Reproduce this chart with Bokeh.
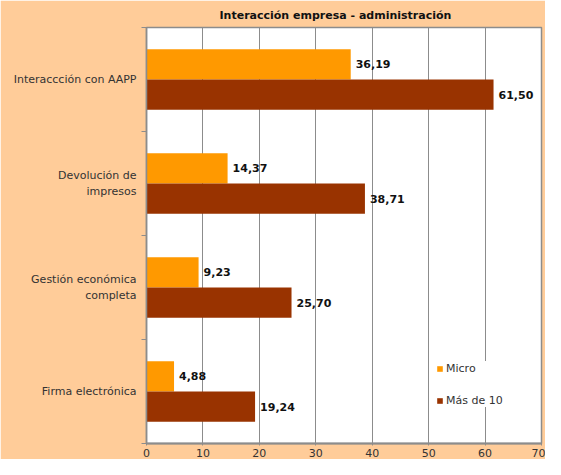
from bokeh.plotting import figure
from bokeh.models import ColumnDataSource, FixedTicker, Range1d, Legend, LegendItem
from bokeh.core.properties import value
from bokeh.embed import file_html
from bokeh.resources import INLINE

categories = ["Interaccción con AAPP", "Devolución de\nimpresos", "Gestión económica\ncompleta", "Firma electrónica"]
micro = [36.19, 14.37, 9.23, 4.88]
mas10 = [61.50, 38.71, 25.70, 19.24]
series_names = ["Micro", "Más de 10"]
x_ticks = [0, 10, 20, 30, 40, 50, 60, 70]

n = len(categories)
centers = [n - 1 - i + 0.5 for i in range(n)]
off = 0.145
h = 0.29

src = ColumnDataSource(dict(
    ym=[c + off for c in centers],
    yx=[c - off for c in centers],
    micro=micro,
    mas=mas10,
    lm=[f"{v:.2f}".replace(".", ",") for v in micro],
    lx=[f"{v:.2f}".replace(".", ",") for v in mas10],
))

FONT = "DejaVu Sans"
BG = "#FFCC99"
GRAY = "#8c8c8c"

p = figure(width=545, height=459, output_backend="svg", toolbar_location=None,
           x_range=Range1d(0, 70), y_range=Range1d(0, n),
           min_border_left=146, min_border_right=4, min_border_top=0, min_border_bottom=10,
           title="Interacción empresa - administración")
p.background_fill_color = "white"
p.border_fill_color = BG
p.outline_line_color = GRAY
p.outline_line_width = 1.5

p.title.align = "left"
p.title.offset = 73
p.title.text_font = FONT
p.title.text_font_size = "11px"
p.title.text_font_style = "bold"
p.title.text_color = "#111111"
p.title.standoff = 12

r1 = p.hbar(y="ym", right="micro", left=0, height=h, source=src, color="#FF9900", line_color=None)
r2 = p.hbar(y="yx", right="mas", left=0, height=h, source=src, color="#993300", line_color=None)

for col, lab in (("ym", "lm"), ("yx", "lx")):
    p.text(x="micro" if col == "ym" else "mas", y=col, text=lab, source=src,
           x_offset=5, text_baseline="middle", text_align="left",
           text_font=value(FONT), text_font_size="11px", text_font_style="bold", text_color="#111111")

# x axis
p.xaxis.ticker = FixedTicker(ticks=x_ticks)
p.xaxis.axis_line_color = GRAY
p.xaxis.axis_line_width = 2
p.xaxis.major_tick_line_color = GRAY
p.xaxis.major_tick_out = 2
p.xaxis.major_tick_in = 0
p.xaxis.minor_tick_line_color = None
p.xaxis.major_label_text_font = FONT
p.xaxis.major_label_text_font_size = "11px"
p.xaxis.major_label_text_color = "#333333"
p.xaxis.major_label_standoff = 3

# y axis
p.yaxis.ticker = FixedTicker(ticks=centers, minor_ticks=list(range(n + 1)))
p.yaxis.major_label_overrides = {c: categories[i] for i, c in enumerate(centers)}
p.yaxis.axis_line_color = GRAY
p.yaxis.axis_line_width = 1.5
p.yaxis.major_tick_line_color = None
p.yaxis.major_tick_out = 0
p.yaxis.major_tick_in = 0
p.yaxis.minor_tick_line_color = GRAY
p.yaxis.minor_tick_out = 5
p.yaxis.minor_tick_in = 0
p.yaxis.major_label_text_font = FONT
p.yaxis.major_label_text_font_size = "11px"
p.yaxis.major_label_text_color = "#333333"
p.yaxis.major_label_standoff = 5

p.xgrid.ticker = FixedTicker(ticks=x_ticks)
p.xgrid.grid_line_color = GRAY
p.xgrid.grid_line_width = 1
p.ygrid.grid_line_color = None

legend = Legend(items=[LegendItem(label=series_names[0], renderers=[r1]),
                       LegendItem(label=series_names[1], renderers=[r2])],
                location=(290, 36))
legend.background_fill_color = "white"
legend.background_fill_alpha = 1
legend.border_line_color = None
legend.label_text_font = FONT
legend.label_text_font_size = "11px"
legend.label_text_color = "#333333"
legend.glyph_width = 7
legend.glyph_height = 7
legend.label_height = 14
legend.spacing = 18
legend.padding = 10
legend.margin = 0
legend.label_standoff = 3
p.add_layout(legend, "center")

open("out.html", "w").write(file_html(p, INLINE))
